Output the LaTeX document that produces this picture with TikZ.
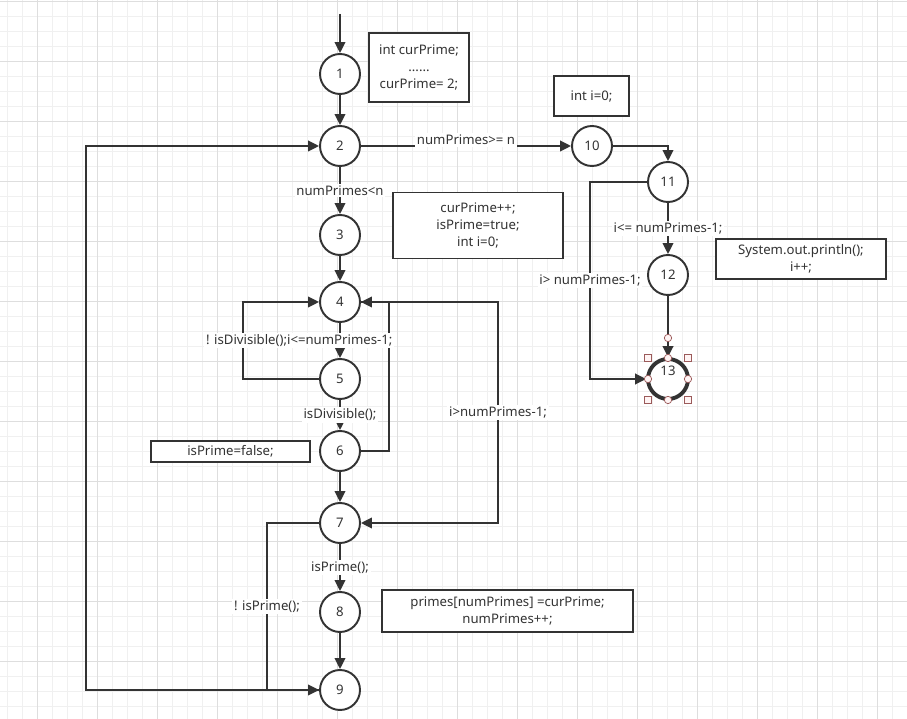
\documentclass[tikz,border=0pt]{standalone}
\usepackage{fontspec}
\setmainfont{Noto Sans}
\usetikzlibrary{arrows.meta}
\definecolor{ink}{HTML}{333333}
\definecolor{gridmin}{HTML}{F0F0F0}
\definecolor{gridmaj}{HTML}{DEDEDE}
\definecolor{handle}{HTML}{9B5A5A}
\definecolor{handlefill}{HTML}{FFF4F4}
\begin{document}
\begin{tikzpicture}[x=0.02cm,y=-0.02cm,
  font=\fontsize{7.5}{9.4}\selectfont, text=ink,
  state/.style={circle,draw=ink,line width=1.1pt,minimum size=0.8cm,inner sep=0pt,fill=white},
  code/.style={draw=ink,line width=1.1pt,align=center,inner sep=0pt,fill=white},
  lbl/.style={fill=white,inner sep=1pt},
  arr/.style={draw=ink,line width=1.1pt,-{Triangle[length=6.2pt,width=6pt]}},
  hbox/.style={draw=handle,fill=handlefill,line width=0.4pt,minimum size=3.8pt,inner sep=0pt},
  hdot/.style={circle,draw=handle,fill=handlefill,line width=0.4pt,minimum size=4.2pt,inner sep=0pt}]
 \useasboundingbox (0,0) rectangle (907,719);
 \fill[white] (0,0) rectangle (907,719);
 \foreach \gx in {0,...,59} \draw[gridmin,line width=0.5pt] ({7.7+15*\gx},0) -- ({7.7+15*\gx},719);
 \foreach \gy in {0,...,47} \draw[gridmin,line width=0.5pt] (0,{1.7+15*\gy}) -- (907,{1.7+15*\gy});
 \foreach \gx in {0,...,14} \draw[gridmaj,line width=0.5pt] ({37.7+60*\gx},0) -- ({37.7+60*\gx},719);
 \foreach \gy in {0,...,11} \draw[gridmaj,line width=0.5pt] (0,{1.7+60*\gy}) -- (907,{1.7+60*\gy});

 \node[state] (n1) at (340,74) {1};
 \node[state] (n2) at (340,146) {2};
 \node[state] (n3) at (340,235) {3};
 \node[state] (n4) at (340,302) {4};
 \node[state] (n5) at (340,379) {5};
 \node[state] (n6) at (340,451) {6};
 \node[state] (n7) at (340,523) {7};
 \node[state] (n8) at (340,612) {8};
 \node[state] (n9) at (340,690) {9};
 \node[state] (n10) at (592,146) {10};
 \node[state] (n11) at (668,182) {11};
 \node[state] (n12) at (668,275) {12};
 \node[state,line width=2.2pt,label={[yshift=4.5pt]center:13}] (n13) at (668,379) {};

 \node[code,minimum width=2cm,minimum height=1.38cm] (cInit) at (419,67.5) {int curPrime;\\......\\curPrime= 2;};
 \node[code,minimum width=3.4cm,minimum height=1.32cm] (cNext) at (478,225.5) {curPrime++;\\isPrime=true;\\int i=0;};
 \node[code,minimum width=1.5cm,minimum height=0.8cm] (cOut) at (591.5,96) {int i=0;};
 \node[code,minimum width=3.4cm,minimum height=0.8cm] (cPrint) at (801,259) {System.out.println();\\i++;};
 \node[code,minimum width=3.18cm,minimum height=0.42cm] (cFalse) at (230.5,451.5) {isPrime=false;};
 \node[code,minimum width=5.02cm,minimum height=0.84cm] (cStore) at (507.5,611) {primes[numPrimes] =curPrime;\\numPrimes++;};

 \coordinate (entry) at (340,14);
 \draw[arr] (entry) -- (n1);
 \draw[arr] (n1) -- (n2);
 \draw[arr] (n2) -- node[lbl] {numPrimes<n} (n3);
 \draw[arr] (n3) -- (n4);
 \draw[arr] (n5.west) -- (243,379) -- (243,302) -- (n4.west);
 \draw[arr] (n6.east) -- (389,451) -- (389,302) -- (n4.east);
 \draw[arr] (n4) -- node[lbl,xshift=-23.2pt] {! isDivisible();i<=numPrimes-1;} (n5);
 \draw[arr] (n5) -- node[lbl] {isDivisible();} (n6);
 \draw[arr] (n6) -- (n7);
 \draw[arr] (n4.east) -- (498,302) -- node[lbl] {i>numPrimes-1;} (498,523) -- (n7.east);
 \draw[arr] (n7) -- node[lbl] {isPrime();} (n8);
 \draw[arr] (n8) -- (n9);
 \draw[arr] (n9.west) -- (86,690) -- (86,146) -- (n2.west);
 \draw[arr] (n7.west) -- (267,523) -- node[lbl] {! isPrime();} (267,690) -- (n9.west);
 \draw[arr] (n2) -- node[lbl,yshift=3.4pt] {numPrimes>= n} (n10);
 \draw[arr] (n10.east) -| (n11.north);
 \draw[arr] (n11) -- node[lbl] {i<= numPrimes-1;} (n12);
 \draw[arr] (n11.west) -- (590,182) -- node[lbl] {i> numPrimes-1;} (590,379) -- (n13.west);
 \draw[arr] (n12) -- (n13);

 \foreach \hx/\hy [count=\hi] in {648/358,688/358,648/400,688/400}
  \node[hbox] (hb\hi) at (\hx,\hy) {};
 \foreach \hx/\hy [count=\hi] in {668/358,668/400,648/379,688/379,668/338}
  \node[hdot] (hd\hi) at (\hx,\hy) {};
\end{tikzpicture}
\end{document}
